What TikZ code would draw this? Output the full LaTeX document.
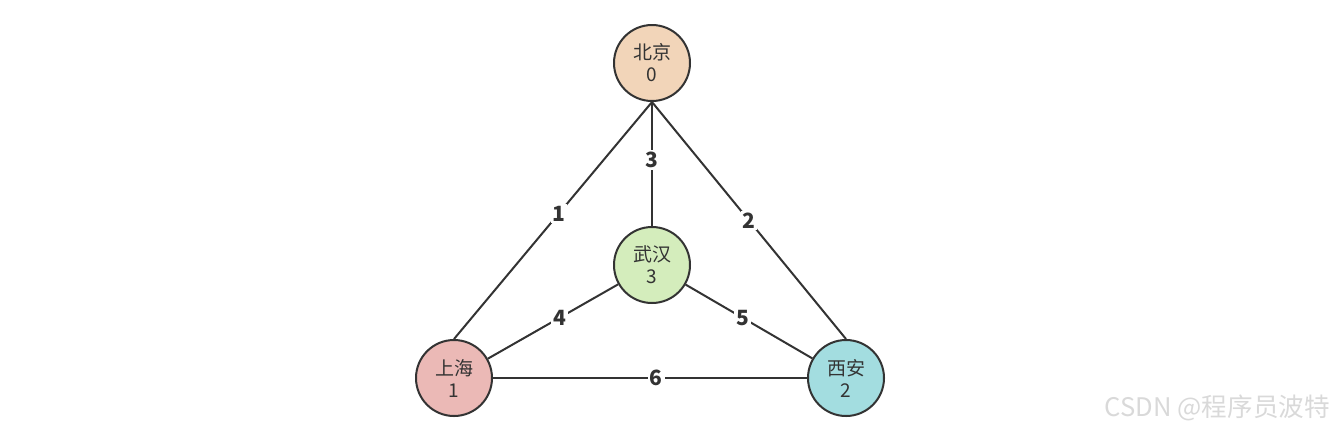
\documentclass[tikz,border=0pt]{standalone}
\usepackage{fontspec}
\setmainfont{Noto Sans CJK SC}
\usetikzlibrary{arrows.meta}
\definecolor{bjfill}{RGB}{242,213,185}
\definecolor{whfill}{RGB}{212,237,188}
\definecolor{shfill}{RGB}{235,185,182}
\definecolor{xafill}{RGB}{163,221,224}
\definecolor{edgegray}{RGB}{51,51,51}
\tikzset{
  city/.style={circle, draw=edgegray, line width=1pt, minimum size=38pt, inner sep=0pt,
    align=center, font=\fontsize{9.5pt}{11pt}\selectfont, text=edgegray},
  road/.style={draw=edgegray, line width=1pt},
  dist/.style={fill=white, inner sep=1pt, font=\fontsize{10.5pt}{12pt}\selectfont\bfseries, text=edgegray}
}

\begin{document}
\begin{tikzpicture}[x=0.5pt,y=-0.5pt]
\useasboundingbox (0,0) rectangle (1338,430);
\node[city, fill=bjfill] (bj) at (652,63) {北京\\0};
\node[city, fill=whfill] (wh) at (652,265) {武汉\\3};
\node[city, fill=shfill] (sh) at (454,378) {上海\\1};
\node[city, fill=xafill] (xa) at (846,378) {西安\\2};
\path[road] (bj.south) -- node[dist, pos=0.47] {1} (sh.north);
\path[road] (bj.south) -- node[dist] {2} (xa.north);
\path[road] (bj.south) -- node[dist, pos=0.47] {3} (wh.north);
\path[road] (wh) -- node[dist, pos=0.45] {4} (sh);
\path[road] (wh) -- node[dist, pos=0.45] {5} (xa);
\path[road] (sh.east) -- node[dist, pos=0.52] {6} (xa.west);
\node[font=\fontsize{12.8pt}{14pt}\selectfont, text=black!15, anchor=east] (mark) at (1337,408) {CSDN @程序员波特};
\end{tikzpicture}
\end{document}
